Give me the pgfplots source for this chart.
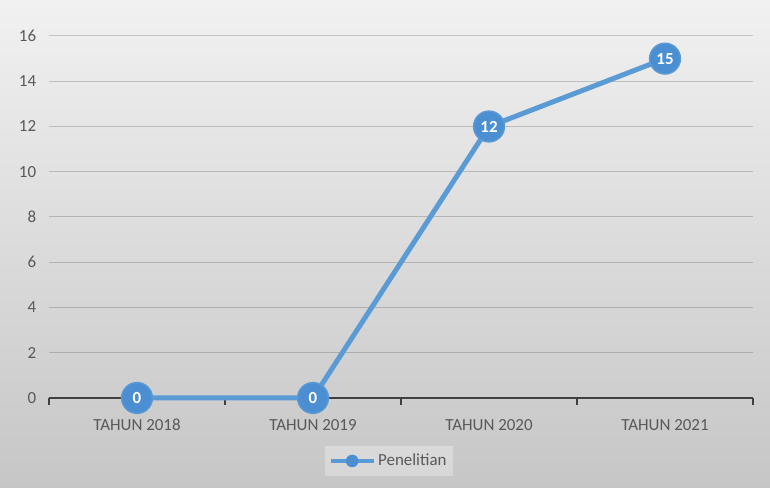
\documentclass[border=0pt]{standalone}
\usepackage{pgfplots}
\pgfplotsset{compat=1.18}
\usepackage{fontspec}
\setmainfont{Carlito}
\definecolor{lineblue}{RGB}{91,155,213}
\definecolor{markblue}{RGB}{76,142,210}
\definecolor{txtgray}{RGB}{89,89,89}
\definecolor{axisgray}{RGB}{64,64,64}
\newcommand{\lblfont}{\fontsize{12.7}{15}\selectfont}
\begin{document}
\begin{tikzpicture}
\shade[top color={rgb,255:red,241;green,241;blue,241}, bottom color={rgb,255:red,198;green,198;blue,198}] (0,0) rectangle (577.5pt,366pt);
\begin{axis}[
  at={(36.75pt,67.5pt)}, anchor=south west,
  scale only axis, width=528pt, height=271.5pt,
  xmin=-0.5, xmax=3.5, ymin=0, ymax=16,
  axis x line=bottom, axis y line=left,
  axis line style={-},
  x axis line style={draw=axisgray, line width=1.5pt},
  y axis line style={draw=none},
  xtick={0,1,2,3},
  xticklabels={TAHUN 2018,TAHUN 2019,TAHUN 2020,TAHUN 2021},
  major x tick style={draw=none},
  minor xtick={-0.5,0.5,1.5,2.5,3.5},
  minor x tick style={draw=axisgray, line width=1.5pt},
  minor tick length=5pt,
  xtick align=outside,
  ytick={0,2,...,16},
  ytick style={draw=none},
  ymajorgrids,
  major y grid style={draw=black, opacity=0.18, line width=0.75pt},
  tick label style={font=\lblfont, text=txtgray},
  xticklabel style={yshift=-8pt},
  yticklabel style={xshift=-4pt},
  /pgf/number format/assume math mode=true,
  clip=false,
  legend style={at={(0.483,-0.174)}, anchor=center, draw=none,
    fill=white, fill opacity=0.3, text opacity=1, text=txtgray, font=\lblfont,
    inner xsep=3pt, inner ysep=4pt},
]
\addlegendimage{legend image code/.code={
    \draw[lineblue, line width=3pt, draw opacity=1] (0pt,0pt) -- (32pt,0pt);
    \fill[markblue, fill opacity=1] (16pt,0pt) circle (4.5pt);
  }}
\addlegendentry{Penelitian}
\addplot[lineblue, line width=3.75pt, mark=*, mark size=11.6pt,
  mark options={fill=markblue, draw=lineblue, line width=1pt},
  nodes near coords, nodes near coords align={center},
  every node near coord/.append style={anchor=center, text=white, font=\lblfont\bfseries},
  forget plot]
  coordinates {(0,0) (1,0) (2,12) (3,15)};
\end{axis}
\end{tikzpicture}
\end{document}
